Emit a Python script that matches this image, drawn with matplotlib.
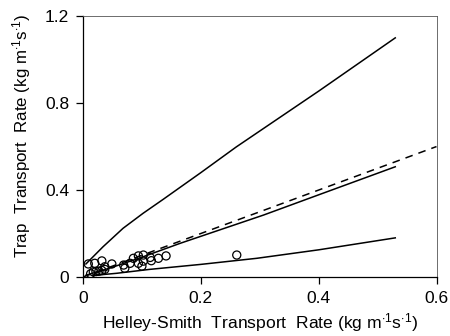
import matplotlib
matplotlib.use("Agg")
import matplotlib.pyplot as plt

plt.rcParams['font.family'] = ['Liberation Sans', 'DejaVu Sans']
plt.rcParams['mathtext.fontset'] = 'custom'
plt.rcParams['mathtext.rm'] = 'Liberation Sans'
plt.rcParams['mathtext.it'] = 'Liberation Sans'

# Observed data (Helley-Smith vs trap transport rate)
obs_x = [0.009, 0.020, 0.032, 0.037, 0.049, 0.013, 0.0175, 0.022, 0.027, 0.032, 0.037,
         0.069, 0.071, 0.080, 0.0855, 0.094, 0.1025, 0.094, 0.1025, 0.100, 0.114, 0.116,
         0.128, 0.141, 0.261]
obs_y = [0.060, 0.063, 0.074, 0.047, 0.060, 0.015, 0.024, 0.025, 0.027, 0.030, 0.035,
         0.055, 0.040, 0.063, 0.086, 0.097, 0.101, 0.063, 0.073, 0.050, 0.090, 0.075,
         0.086, 0.097, 0.101]

# Fitted relation and bounds
upper_x = [0.005, 0.034, 0.068, 0.102, 0.136, 0.200, 0.260, 0.400, 0.530]
upper_y = [0.060, 0.139, 0.224, 0.293, 0.357, 0.480, 0.598, 0.855, 1.100]
mid_x = [0.005, 0.050, 0.100, 0.165, 0.3065, 0.400, 0.530]
mid_y = [0.008, 0.045, 0.091, 0.155, 0.285, 0.378, 0.507]
low_x = [0.017, 0.057, 0.113, 0.200, 0.295, 0.400, 0.530]
low_y = [0.007, 0.017, 0.035, 0.058, 0.086, 0.125, 0.180]
line11_x = [0.0, 0.6]
line11_y = [0.0, 0.6]

xticks = [0, 0.2, 0.4, 0.6]
xticklabels = ['0', '0.2', '0.4', '0.6']
yticks = [0, 0.4, 0.8, 1.2]
yticklabels = ['0', '0.4', '0.8', '1.2']

fig = plt.figure(figsize=(4.5, 3.36), dpi=100)
ax = fig.add_axes([0.1844, 0.1756, 0.7856, 0.7764])

ax.plot(upper_x, upper_y, color='black', lw=1.1)
ax.plot(mid_x, mid_y, color='black', lw=1.1)
ax.plot(low_x, low_y, color='black', lw=1.1)
ax.plot(line11_x, line11_y, color='black', lw=1.1, dashes=(5, 4))
ax.scatter(obs_x, obs_y, s=34, facecolors='none', edgecolors='black', linewidths=0.9, zorder=3)

ax.set_xlim(0, 0.6)
ax.set_ylim(0, 1.2)
ax.set_xticks(xticks)
ax.set_xticklabels(xticklabels)
ax.set_yticks(yticks)
ax.set_yticklabels(yticklabels)
ax.tick_params(direction='out', length=5, width=0.9, labelsize=12.5, pad=5)
for s in ax.spines.values():
    s.set_linewidth(0.9)
for s in ['top', 'right']:
    ax.spines[s].set_linewidth(0.6)
    ax.spines[s].set_color('#555555')

ax.set_xlabel(r'Helley-Smith  Transport  Rate (kg m$^{\cdot 1}$s$^{\cdot 1}$)', fontsize=12.6, labelpad=4)
ax.set_ylabel(r'Trap  Transport  Rate (kg m$^{\cdot 1}$s$^{\cdot 1}$)', fontsize=12.2)
ax.yaxis.set_label_coords(-0.14, 0.54)

fig.savefig('out.png', dpi=100)
